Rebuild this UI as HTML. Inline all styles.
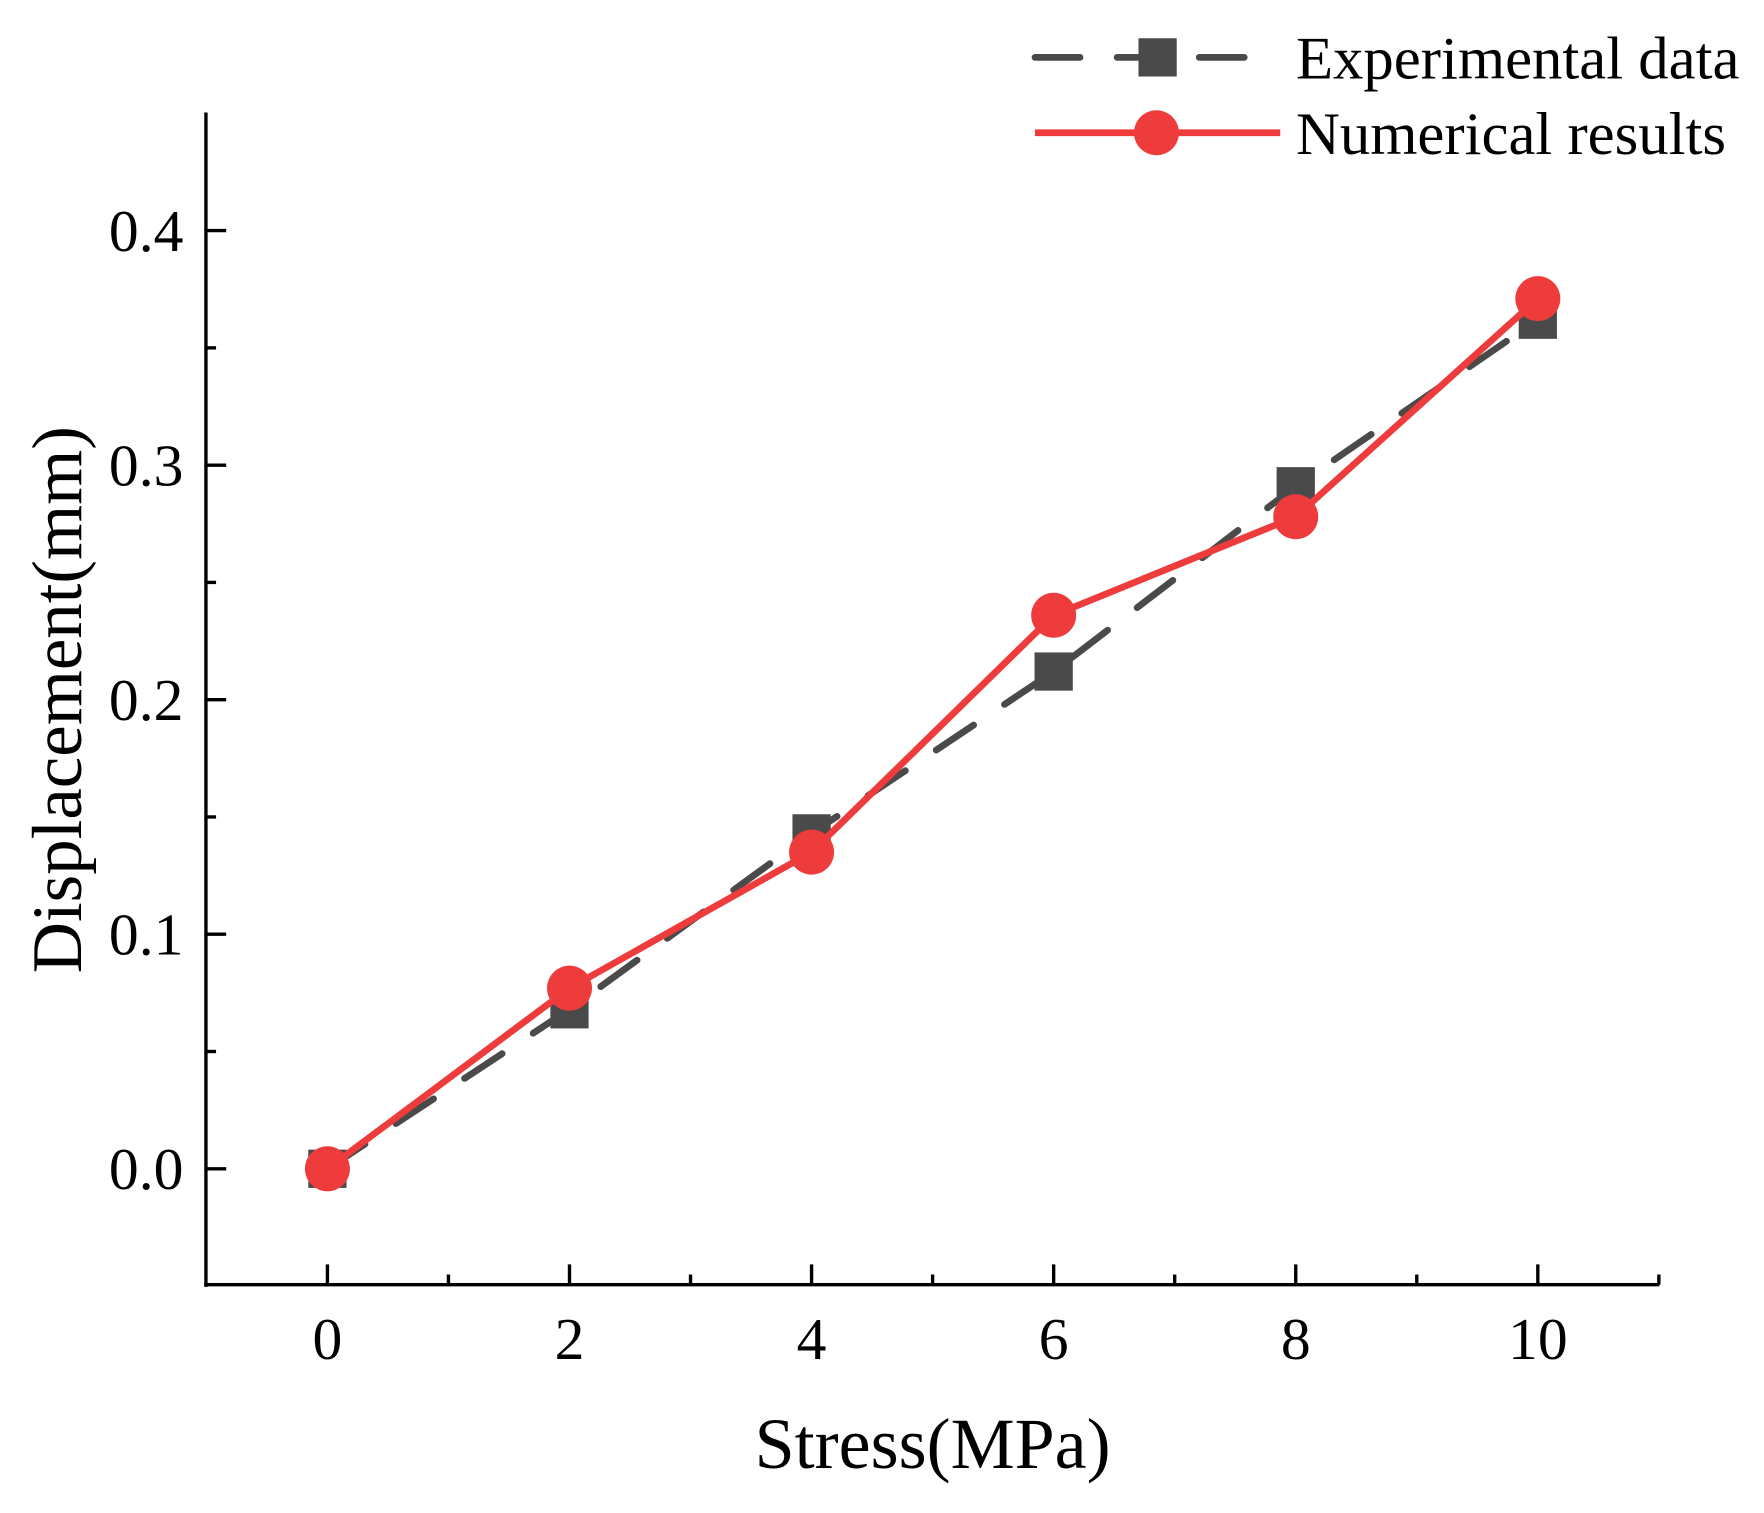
<!DOCTYPE html>
<html><head><meta charset="utf-8"><style>
html,body{margin:0;padding:0;background:#fff;}
svg{display:block;}
text{font-family:"Liberation Serif",serif;fill:#000;}
</style></head><body>
<svg id="chart" width="1764" height="1513" viewBox="0 0 1568 1345" xmlns="http://www.w3.org/2000/svg">
<g id="axes"></g>
<g id="series"></g>
<g id="legend">
  <line x1="920" y1="51" x2="1112" y2="51" stroke="#4a4a4a" stroke-width="6" stroke-dasharray="40,33" stroke-linecap="round"/>
  <rect x="1012" y="34" width="34" height="34" fill="#4a4a4a"/>
  <text x="1152" y="70" font-size="54">Experimental data</text>
  <line x1="920" y1="118" x2="1138" y2="118" stroke="#ee3b3b" stroke-width="6"/>
  <circle cx="1028" cy="118" r="20" fill="#ee3b3b"/>
  <text x="1152" y="137" font-size="54">Numerical results</text>
</g>
<text x="829" y="1305" font-size="64" text-anchor="middle">Stress(MPa)</text>
<text transform="translate(72,622) rotate(-90)" font-size="63" text-anchor="middle">Displacement(mm)</text>
</svg>
<script>
const xValues = [0, 2, 4, 6, 8, 10];
const expValues = [0, 0.068, 0.143, 0.212, 0.291, 0.362];
const numValues = [0, 0.077, 0.135, 0.236, 0.278, 0.371];
const xTicks = [0, 2, 4, 6, 8, 10];
const yTicks = [0.0, 0.1, 0.2, 0.3, 0.4];
const yTickLabels = ["0.0", "0.1", "0.2", "0.3", "0.4"];

const NS = "http://www.w3.org/2000/svg";
const L = 183, R = 1475, T = 100, B = 1142;
const xs = v => 291 + v * 107.6;
const ys = v => 1039 - v * 2085;
function mk(tag, attrs, parent) {
  const e = document.createElementNS(NS, tag);
  for (const k in attrs) e.setAttribute(k, attrs[k]);
  parent.appendChild(e);
  return e;
}
const axes = document.getElementById('axes');
let a = mk('line', {x1: L, y1: T, x2: L, y2: B + 2, stroke: '#000', 'stroke-width': 3}, axes);


a = mk('line', {x1: L - 1.5, y1: B, x2: R, y2: B, stroke: '#000', 'stroke-width': 3}, axes);


for (let v = -1; v <= 11; v++) {
  const x = xs(v);
  if (x < L + 2 || x > R) continue;
  const major = xTicks.includes(v);
  const t = mk('line', {x1: x, y1: B, x2: x, y2: B - (major ? 18 : 9), stroke: '#000', 'stroke-width': 3}, axes);
  
  
}
xTicks.forEach(v => {
  const t = mk('text', {x: xs(v), y: 1208, 'font-size': 53, 'text-anchor': 'middle'}, axes);
  t.textContent = String(v);
  
  
});
for (let i = -1; i <= 8; i++) {
  const v = i * 0.05;
  const y = ys(v);
  if (y > B - 2 || y < T) continue;
  const major = i % 2 === 0;
  const t = mk('line', {x1: L, y1: y, x2: L + (major ? 18 : 9), y2: y, stroke: '#000', 'stroke-width': 3}, axes);
  
  
}
yTicks.forEach((v, i) => {
  const t = mk('text', {x: 163, y: ys(v) + 18, 'font-size': 53, 'text-anchor': 'end'}, axes);
  t.textContent = yTickLabels[i];
  
  
});
const series = document.getElementById('series');
const expPts = xValues.map((x, i) => xs(x) + ',' + ys(expValues[i])).join(' ');
let p = mk('polyline', {points: expPts, fill: 'none', stroke: '#4a4a4a', 'stroke-width': 6, 'stroke-dasharray': '40,33', 'stroke-linecap': 'round'}, series);


xValues.forEach((x, i) => {
  const r = mk('rect', {x: xs(x) - 17, y: ys(expValues[i]) - 17, width: 34, height: 34, fill: '#4a4a4a'}, series);
  
  
});
const numPts = xValues.map((x, i) => xs(x) + ',' + ys(numValues[i])).join(' ');
p = mk('polyline', {points: numPts, fill: 'none', stroke: '#ee3b3b', 'stroke-width': 6}, series);


xValues.forEach((x, i) => {
  const c = mk('circle', {cx: xs(x), cy: ys(numValues[i]), r: 20, fill: '#ee3b3b'}, series);
  
  
});
</script>
</body></html>
